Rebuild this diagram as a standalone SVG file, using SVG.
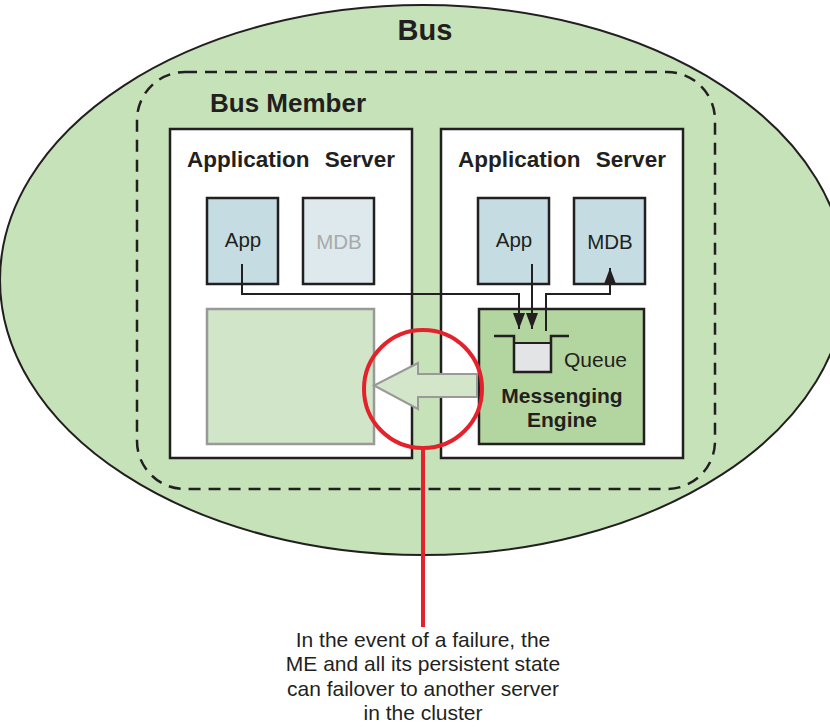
<svg xmlns="http://www.w3.org/2000/svg" width="830" height="727" viewBox="0 0 830 727">
<defs>
<style>
text{font-family:"Liberation Sans",Arial,sans-serif;fill:#231f20}
.b{font-weight:bold}
.box{stroke:#231f20;stroke-width:2.5}
.conn{fill:none;stroke:#231f20;stroke-width:2}
.cap{font-size:21px;text-anchor:middle}
</style>
<marker id="ah" viewBox="0 0 16 12" refX="16" refY="6" markerWidth="16" markerHeight="12" markerUnits="userSpaceOnUse" orient="auto">
<path d="M0,0 L16,6 L0,12 Z" fill="#231f20"/>
</marker>
</defs>
<g id="bus">
<ellipse cx="423" cy="280" rx="423" ry="275" fill="#c6e2b9" stroke="#231f20" stroke-width="2"/>
<text x="425" y="40" class="b" font-size="29" text-anchor="middle">Bus</text>
</g>
<g id="bus-member">
<rect x="137" y="72" width="578" height="417" rx="48" fill="none" stroke="#231f20" stroke-width="2.5" stroke-dasharray="12 8"/>
<text x="210" y="112" class="b" font-size="26">Bus Member</text>
</g>
<g id="server-left">
<rect x="170" y="129" width="242" height="329" fill="#fff" class="box"/>
<text x="291" y="167" class="b" font-size="22.5" text-anchor="middle" word-spacing="9">Application Server</text>
</g>
<g id="server-right">
<rect x="441" y="129" width="242" height="329" fill="#fff" class="box"/>
<text x="562" y="167" class="b" font-size="22.5" text-anchor="middle" word-spacing="9">Application Server</text>
</g>
<g id="app-left">
<rect x="207" y="198" width="71" height="86" fill="#c5dde2" class="box"/>
<text x="243" y="247" font-size="20.5" text-anchor="middle">App</text>
</g>
<g id="mdb-left">
<rect x="303" y="198" width="71" height="86" fill="#dde9ed" class="box"/>
<text x="339" y="249" font-size="20.5" text-anchor="middle" style="fill:#a9a9a9">MDB</text>
</g>
<g id="me-left-standby">
<rect x="207" y="309" width="167" height="135" fill="#d1e5c8" stroke="#999" stroke-width="2.5"/>
</g>
<g id="app-right">
<rect x="478" y="198" width="71" height="86" fill="#c5dde2" class="box"/>
<text x="514" y="247" font-size="20.5" text-anchor="middle">App</text>
</g>
<g id="mdb-right">
<rect x="574" y="198" width="71" height="86" fill="#c5dde2" class="box"/>
<text x="610" y="249" font-size="20.5" text-anchor="middle">MDB</text>
</g>
<g id="messaging-engine">
<rect x="479" y="309" width="165" height="135" fill="#b3d59f" class="box"/>
<rect x="514" y="343" width="37" height="29" fill="#e3e4e6" stroke="#231f20" stroke-width="2"/>
<path d="M494,336 H514 V372 H551 V336 H569" fill="none" stroke="#231f20" stroke-width="2.5"/>
<text x="564" y="367" font-size="21">Queue</text>
<text x="562" y="403" class="b" font-size="21" text-anchor="middle">Messenging</text>
<text x="562" y="427" class="b" font-size="21" text-anchor="middle">Engine</text>
</g>
<g id="connectors">
<path class="conn" d="M242,264 V294 H519 V329" marker-end="url(#ah)"/>
<path class="conn" d="M532,264 V329" marker-end="url(#ah)"/>
<path class="conn" d="M546,331 V294 H610 V268" marker-end="url(#ah)"/>
<path d="M477,374 H418 V363 L374,385.5 L418,409 V397 H477 Z" fill="#d3e6c9" stroke="#999" stroke-width="2"/>
</g>
<g id="failover-callout">
<circle cx="423" cy="389" r="59" fill="none" stroke="#e4222c" stroke-width="4"/>
<line x1="423" y1="448" x2="423" y2="627" stroke="#e4222c" stroke-width="4"/>
<text class="cap" x="423" y="647">In the event of a failure, the</text>
<text class="cap" x="423" y="671">ME and all its persistent state</text>
<text class="cap" x="423" y="696">can failover to another server</text>
<text class="cap" x="423" y="720">in the cluster</text>
</g>
</svg>
